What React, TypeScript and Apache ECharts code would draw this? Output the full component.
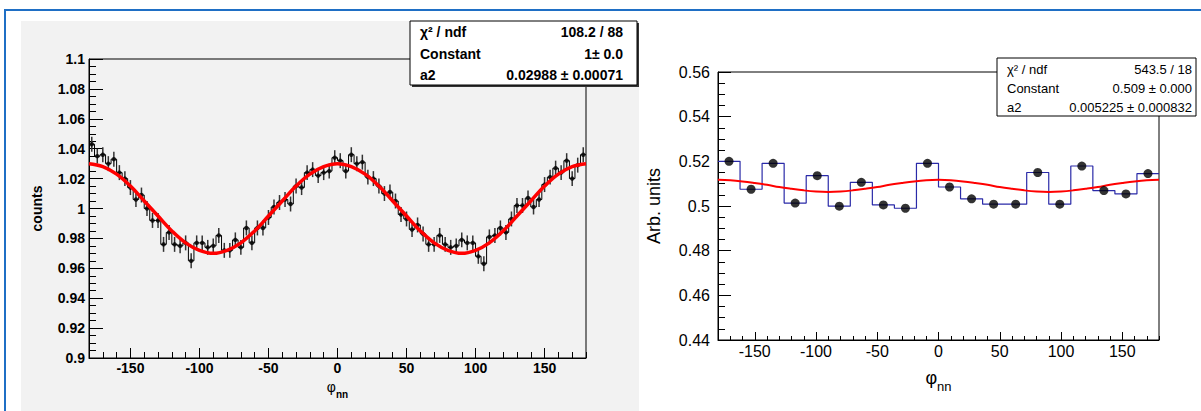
import React, { useEffect, useRef } from "react";
import * as echarts from "echarts";

const FONT = "'Liberation Sans', Arial, Helvetica, sans-serif";

// ---------- Left panel: 90 bins of 4 degrees from -180 to 180 ----------
const leftBinMin = -180;
const leftBinWidth = 4;
const leftCounts = [
  1.043, 1.035, 1.036, 1.030, 1.033, 1.024, 1.020, 1.014, 1.006, 1.009,
  1.000, 0.992, 0.992, 0.976, 0.984, 0.976, 0.975, 0.977, 0.965, 0.977,
  0.977, 0.974, 0.975, 0.982, 0.972, 0.972, 0.979, 0.974, 0.987, 0.977,
  0.987, 0.987, 0.994, 1.001, 1.004, 1.006, 1.003, 1.015, 1.014, 1.024,
  1.026, 1.022, 1.024, 1.025, 1.034, 1.032, 1.025, 1.036, 1.030, 1.031,
  1.021, 1.020, 1.015, 1.010, 1.011, 1.005, 0.996, 0.993, 0.986, 0.989,
  0.983, 0.976, 0.976, 0.982, 0.976, 0.974, 0.975, 0.979, 0.977, 0.977,
  0.968, 0.963, 0.981, 0.982, 0.987, 0.984, 0.993, 1.002, 1.002, 1.007,
  1.001, 1.006, 1.016, 1.021, 1.027, 1.024, 1.032, 1.020, 1.029, 1.036,
];
const leftError = 0.005;

// Fit curves at every 10 degrees
const fitAngles = [
  -180, -170, -160, -150, -140, -130, -120, -110, -100, -90, -80, -70, -60,
  -50, -40, -30, -20, -10, 0, 10, 20, 30, 40, 50, 60, 70, 80, 90, 100, 110,
  120, 130, 140, 150, 160, 170, 180,
];
const leftFit = [
  1.030, 1.028, 1.023, 1.015, 1.005, 0.995, 0.985, 0.977, 0.972, 0.970,
  0.972, 0.977, 0.985, 0.995, 1.005, 1.015, 1.023, 1.028, 1.030, 1.028,
  1.023, 1.015, 1.005, 0.995, 0.985, 0.977, 0.972, 0.970, 0.972, 0.977,
  0.985, 0.995, 1.005, 1.015, 1.023, 1.028, 1.030,
];
const leftStats = [
  ["\u03c7\u00b2 / ndf", "108.2 / 88"],
  ["Constant", "1\u00b1 0.0"],
  ["a2", "0.02988 \u00b1 0.00071"],
];

// ---------- Right panel: 20 bins of 18 degrees ----------
const rightBinMin = -180;
const rightBinWidth = 18;
const rightValues = [
  0.5200, 0.5075, 0.5191, 0.5013, 0.5136, 0.4999, 0.5106, 0.5005, 0.4990, 0.5191,
  0.5085, 0.5032, 0.5008, 0.5008, 0.5150, 0.5008, 0.5179, 0.5069, 0.5054, 0.5145,
];
const rightFit = [
  0.5117, 0.5115, 0.5110, 0.5103, 0.5095, 0.5085, 0.5077, 0.5070, 0.5065, 0.5063,
  0.5065, 0.5070, 0.5077, 0.5085, 0.5095, 0.5103, 0.5110, 0.5115, 0.5117, 0.5115,
  0.5110, 0.5103, 0.5095, 0.5085, 0.5077, 0.5070, 0.5065, 0.5063, 0.5065, 0.5070,
  0.5077, 0.5085, 0.5095, 0.5103, 0.5110, 0.5115, 0.5117,
];
const rightStats = [
  ["\u03c7\u00b2 / ndf", "543.5 / 18"],
  ["Constant", "0.509 \u00b1 0.000"],
  ["a2", "0.005225 \u00b1 0.000832"],
];

const xMajorTicks = [-150, -100, -50, 0, 50, 100, 150];

function stepData(min: number, width: number, values: number[]) {
  const pts = values.map((v, i) => [min + i * width, v]);
  pts.push([min + values.length * width, values[values.length - 1]]);
  return pts;
}
function centerData(min: number, width: number, values: number[]) {
  return values.map((v, i) => [min + (i + 0.5) * width, v]);
}

function statBox(
  x: number, y: number, w: number, h: number, rows: string[][],
  font: string, labelX: number, valueX: number, rowYs: number[], shadow: boolean
) {
  const els: any[] = [];
  if (shadow) {
    els.push({ type: "rect", z: 100, shape: { x: x + 2, y: y + 2, width: w, height: h }, style: { fill: "#333" } });
  }
  els.push({ type: "rect", z: 101, shape: { x, y, width: w, height: h }, style: { fill: "#fff", stroke: "#000", lineWidth: 1 } });
  rows.forEach((r, i) => {
    els.push({
      type: "text", z: 102, x: labelX, y: rowYs[i],
      style: { text: r[0], font, fill: "#000", align: "left", textAlign: "left", verticalAlign: "middle", textVerticalAlign: "middle" },
    });
    els.push({
      type: "text", z: 102, x: valueX, y: rowYs[i],
      style: { text: r[1], font, fill: "#000", align: "right", textAlign: "right", verticalAlign: "middle", textVerticalAlign: "middle" },
    });
  });
  return els;
}

export default function App() {
  const ref = useRef<HTMLDivElement>(null);
  useEffect(() => {
    if (!ref.current) return;
    const chart = echarts.init(ref.current, null, { renderer: "svg" });

    const leftCenters = centerData(leftBinMin, leftBinWidth, leftCounts);
    const rightCenters = centerData(rightBinMin, rightBinWidth, rightValues);

    const boldLabel = { color: "#000", fontFamily: FONT, fontWeight: "bold" as const, fontSize: 14 };
    const normLabel = { color: "#000", fontFamily: FONT, fontSize: 16 };
    const line = { show: true, onZero: false, lineStyle: { color: "#000", width: 1 } };

    const option: any = {
      animation: false,
      backgroundColor: "#ffffff",
      textStyle: { fontFamily: FONT },
      graphic: [
        { type: "rect", z: -5, shape: { x: 21, y: 21, width: 618, height: 400 }, style: { fill: "#f2f2f2" } },
        { type: "rect", z: -4, shape: { x: 5, y: 10, width: 1210, height: 420 }, style: { fill: "none", stroke: "#1f6fc5", lineWidth: 2 } },
        ...statBox(410, 21, 227, 64, leftStats, `bold 14px ${FONT}`, 420, 623, [32, 53.5, 74.5], true),
        ...statBox(997, 58, 199, 58, rightStats, `13px ${FONT}`, 1007, 1192, [69, 88.5, 107.5], false),
      ],
      grid: [
        { left: 89, top: 59, width: 497, height: 299, show: true, borderColor: "#000", borderWidth: 1, backgroundColor: "transparent" },
        { left: 718, top: 72, width: 441, height: 268, show: true, borderColor: "#000", borderWidth: 1, backgroundColor: "transparent" },
      ],
      xAxis: [
        {
          gridIndex: 0, type: "value", min: -180, max: 180, position: "bottom",
          axisLine: line,
          axisTick: { show: true, inside: true, length: 10, customValues: xMajorTicks, lineStyle: { color: "#000" } },
          axisLabel: { ...boldLabel, margin: 3, customValues: xMajorTicks },
          splitLine: { show: false },
          name: "{p|\u03c6}{s|nn}", nameLocation: "middle", nameGap: 13,
          nameTextStyle: {
            color: "#000",
            rich: {
              p: { fontSize: 14, fontFamily: FONT, lineHeight: 20, verticalAlign: "top", color: "#000" },
              s: { fontSize: 10, fontFamily: FONT, fontWeight: "bold", lineHeight: 10, verticalAlign: "bottom", color: "#000" },
            },
          },
        },
        {
          gridIndex: 0, type: "value", min: -180, max: 180, interval: 10, position: "bottom",
          axisLine: { show: false, onZero: false }, axisLabel: { show: false }, splitLine: { show: false },
          axisTick: { show: true, inside: true, length: 6, lineStyle: { color: "#000" } },
        },
        {
          gridIndex: 1, type: "value", min: -180, max: 180, position: "bottom",
          axisLine: line,
          axisTick: { show: true, inside: true, length: 8, customValues: xMajorTicks, lineStyle: { color: "#000" } },
          axisLabel: { ...normLabel, margin: 3, customValues: xMajorTicks },
          splitLine: { show: false },
          name: "{p|\u03c6}{s|nn}", nameLocation: "middle", nameGap: 29,
          nameTextStyle: {
            color: "#000",
            rich: {
              p: { fontSize: 18, fontFamily: FONT, lineHeight: 24, verticalAlign: "top", color: "#000" },
              s: { fontSize: 13, fontFamily: FONT, lineHeight: 13, verticalAlign: "bottom", color: "#000" },
            },
          },
        },
        {
          gridIndex: 1, type: "value", min: -180, max: 180, interval: 10, position: "bottom",
          axisLine: { show: false, onZero: false }, axisLabel: { show: false }, splitLine: { show: false },
          axisTick: { show: true, inside: true, length: 4, lineStyle: { color: "#000" } },
        },
      ],
      yAxis: [
        {
          gridIndex: 0, type: "value", min: 0.9, max: 1.1, interval: 0.02, position: "left",
          axisLine: line,
          axisTick: { show: true, inside: true, length: 14, lineStyle: { color: "#000" } },
          minorTick: { show: true, splitNumber: 4, length: 7, lineStyle: { color: "#000" } },
          axisLabel: { ...boldLabel, margin: 4 },
          splitLine: { show: false },
          name: "counts", nameLocation: "middle", nameRotate: 90, nameGap: 45,
          nameTextStyle: { color: "#000", fontFamily: FONT, fontWeight: "bold", fontSize: 14 },
        },
        {
          gridIndex: 1, type: "value", min: 0.44, max: 0.56, interval: 0.02, position: "left",
          axisLine: line,
          axisTick: { show: true, inside: true, length: 13, lineStyle: { color: "#000" } },
          minorTick: { show: true, splitNumber: 4, length: 7, lineStyle: { color: "#000" } },
          axisLabel: { ...normLabel, margin: 8 },
          splitLine: { show: false },
          name: "Arb. units", nameLocation: "middle", nameRotate: 90, nameGap: 55,
          nameTextStyle: { color: "#000", fontFamily: FONT, fontSize: 18 },
        },
      ],
      series: [
        {
          type: "line", xAxisIndex: 0, yAxisIndex: 0, step: "end", symbol: "none", z: 2,
          data: stepData(leftBinMin, leftBinWidth, leftCounts),
          lineStyle: { color: "#000", width: 1 },
        },
        {
          type: "custom", xAxisIndex: 0, yAxisIndex: 0, z: 3,
          data: leftCenters.map(([x, v]) => [x, v - leftError, v + leftError]),
          encode: { x: 0, y: [1, 2] },
          renderItem: (_params: any, api: any) => {
            const p1 = api.coord([api.value(0), api.value(1)]);
            const p2 = api.coord([api.value(0), api.value(2)]);
            return {
              type: "line",
              shape: { x1: p1[0], y1: p1[1], x2: p2[0], y2: p2[1] },
              style: { stroke: "#333", lineWidth: 1.5 },
            };
          },
        },
        {
          type: "scatter", xAxisIndex: 0, yAxisIndex: 0, z: 4,
          data: leftCenters, symbol: "circle", symbolSize: 4.5,
          itemStyle: { color: "#000" },
        },
        {
          type: "line", xAxisIndex: 0, yAxisIndex: 0, z: 5, smooth: 0.4, symbol: "none",
          data: fitAngles.map((a, i) => [a, leftFit[i]]),
          lineStyle: { color: "#ff0000", width: 3.5 },
        },
        {
          type: "line", xAxisIndex: 2, yAxisIndex: 1, step: "end", symbol: "none", z: 2,
          data: stepData(rightBinMin, rightBinWidth, rightValues),
          lineStyle: { color: "#2a2aa8", width: 1.2 },
        },
        {
          type: "line", xAxisIndex: 2, yAxisIndex: 1, z: 3, smooth: 0.4, symbol: "none",
          data: fitAngles.map((a, i) => [a, rightFit[i]]),
          lineStyle: { color: "#ff0000", width: 2 },
        },
        {
          type: "scatter", xAxisIndex: 2, yAxisIndex: 1, z: 4,
          data: rightCenters, symbol: "circle", symbolSize: 9,
          itemStyle: { color: "#000" },
        },
      ],
    };

    chart.setOption(option);
    return () => chart.dispose();
  }, []);

  return (
    <div
      ref={ref}
      style={{ position: "absolute", left: 0, top: 0, width: 1201, height: 411 }}
    />
  );
}
